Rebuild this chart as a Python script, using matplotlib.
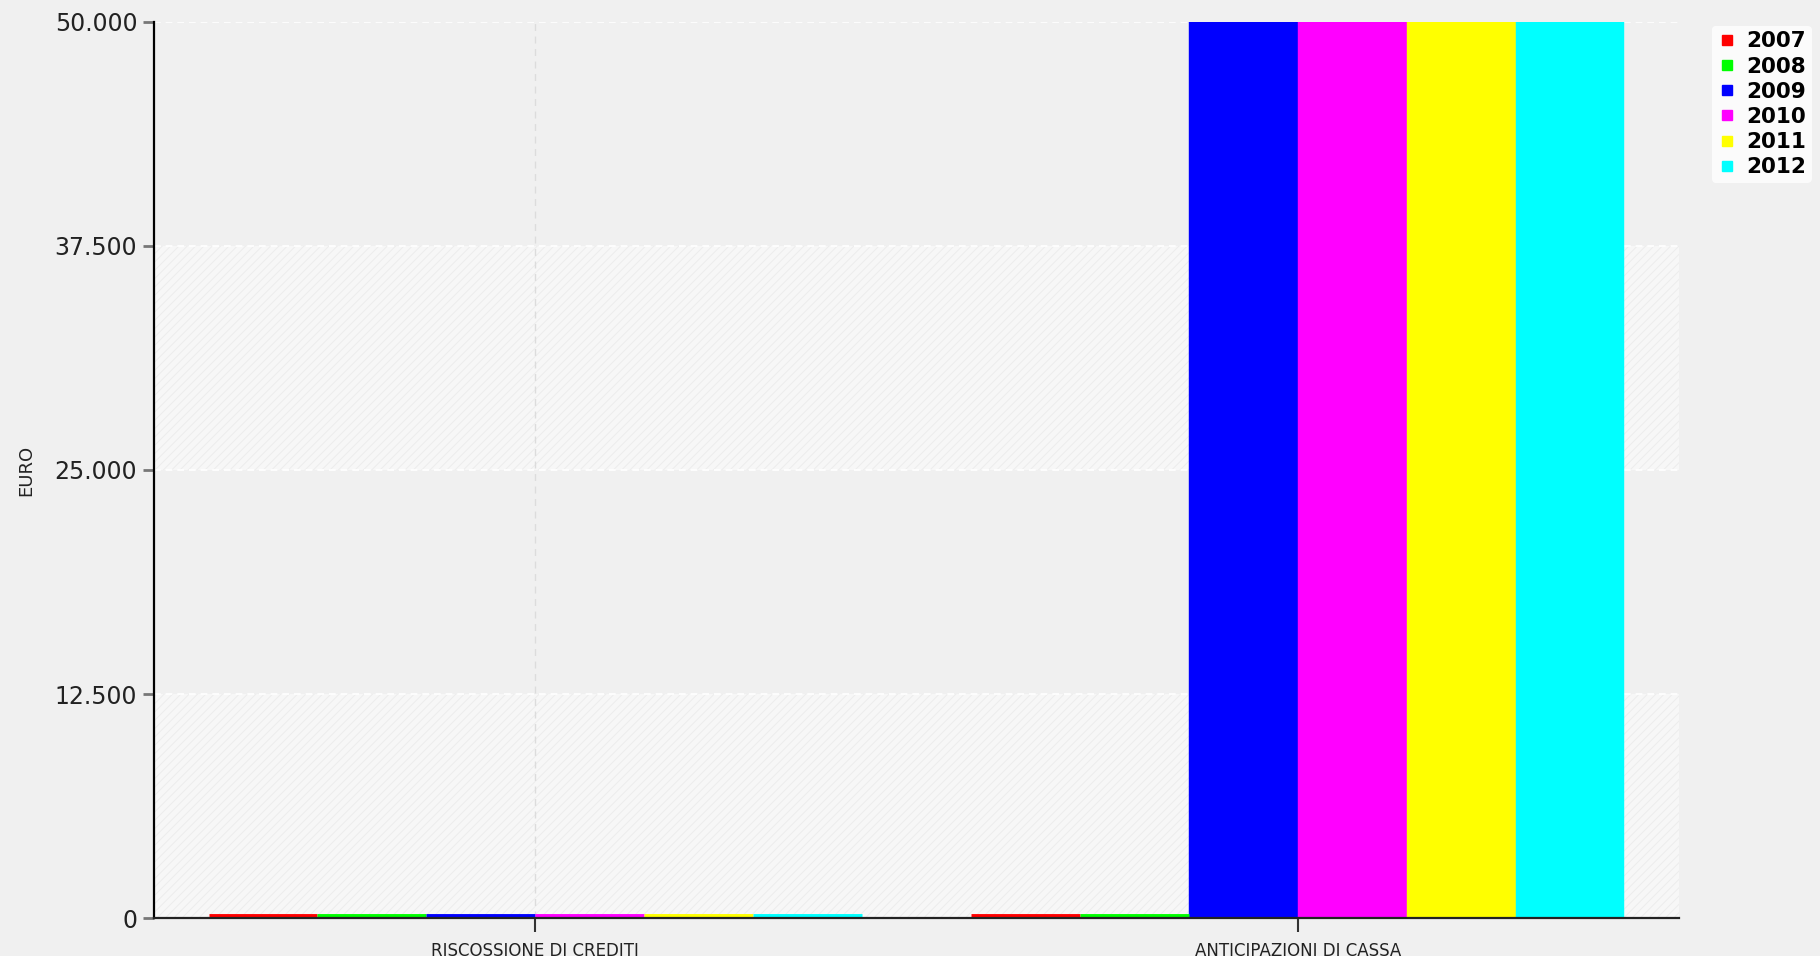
import matplotlib
matplotlib.use("Agg")
import matplotlib.pyplot as plt
from matplotlib.lines import Line2D
from matplotlib.ticker import FuncFormatter
from matplotlib.transforms import offset_copy
import numpy as np

# Data
categories = ["RISCOSSIONE DI CREDITI", "ANTICIPAZIONI DI CASSA"]
years = ["2007", "2008", "2009", "2010", "2011", "2012"]
colors = ["#ff0000", "#00ff00", "#0000ff", "#ff00ff", "#ffff00", "#00ffff"]
values = {
    "2007": [0, 0],
    "2008": [0, 0],
    "2009": [0, 1500000],
    "2010": [0, 1500000],
    "2011": [0, 1500000],
    "2012": [0, 1500000],
}
y_ticks = [0, 12500, 25000, 37500, 50000]
y_max = 50000

plt.rcParams["hatch.linewidth"] = 0.6
bg = "#f0f0f0"
fig = plt.figure(figsize=(18.2, 9.56), dpi=100, facecolor=bg)
ax = fig.add_axes([154 / 1820, 1 - 918 / 956, (1679 - 154) / 1820, (918 - 22) / 956])
ax.set_facecolor(bg)

# alternating hatched bands
for i in range(len(y_ticks) - 1):
    if i % 2 == 0:
        ax.axhspan(y_ticks[i], y_ticks[i + 1], facecolor="#f7f7f7",
                   edgecolor="#ebebeb", hatch="////", linewidth=0, zorder=0)

# grid lines
for yv in y_ticks[1:]:
    ax.axhline(yv, color="white", linestyle=(0, (4, 3)), linewidth=1.2, zorder=1)

x = np.arange(len(categories))
ax.set_xlim(-0.5, 1.5)
ax.set_ylim(0, y_max)
for xv in x:
    ax.axvline(xv, color="#dcdcdc", linestyle=(0, (5, 4)), linewidth=1.0, zorder=1)

# zero-height bars are shown as a thin strip sitting on the baseline
raised = offset_copy(ax.transData, fig=fig, x=0, y=2.5, units="dots")
group_w = 0.857
bw = group_w / len(years)
for i, (yr, c) in enumerate(zip(years, colors)):
    offs = -group_w / 2 + bw * (i + 0.5)
    vals = values[yr]
    ax.bar(x + offs, vals, width=bw, color=c, edgecolor=c, linewidth=0.3, zorder=2)
    for xi, v in zip(x, vals):
        if v == 0:
            ax.hlines(0, xi + offs - bw / 2, xi + offs + bw / 2, colors=c,
                      linewidth=3.5, zorder=3, clip_on=False, transform=raised)

for s in ["top", "right"]:
    ax.spines[s].set_visible(False)
ax.spines["left"].set_color("black")
ax.spines["left"].set_linewidth(1.6)
ax.spines["bottom"].set_color("#222222")
ax.spines["bottom"].set_linewidth(1.6)
ax.spines["left"].set_zorder(4)
ax.spines["bottom"].set_zorder(4)

ax.set_yticks(y_ticks)
ax.yaxis.set_major_formatter(FuncFormatter(lambda v, p: f"{int(v):,}".replace(",", ".")))
ax.tick_params(axis="y", direction="out", length=8, width=2, color="#777777",
               labelsize=17, labelcolor="#222222", pad=4)
ax.set_xticks(x)
ax.set_xticklabels(categories)
ax.tick_params(axis="x", direction="out", length=10, width=1.5, color="#333333",
               labelsize=12, labelcolor="#222222", pad=7)
ax.set_ylabel("EURO", fontsize=13, color="#222222")
ax.yaxis.set_label_coords(-0.078, 0.5)

handles = [Line2D([], [], marker="s", linestyle="none", markersize=7,
                  markerfacecolor=c, markeredgecolor=c) for c in colors]
leg = fig.legend(handles, years, loc="upper left",
                 bbox_to_anchor=(1712 / 1820, 1 - 26 / 956),
                 frameon=True, fancybox=True, facecolor="white", edgecolor="white",
                 prop={"size": 15.5, "weight": "bold"}, handlelength=0.9,
                 handletextpad=0.45, labelspacing=0.24, borderpad=0.25,
                 borderaxespad=0)
leg.get_frame().set_linewidth(0)

fig.savefig("out.png", dpi=100, facecolor=bg)
